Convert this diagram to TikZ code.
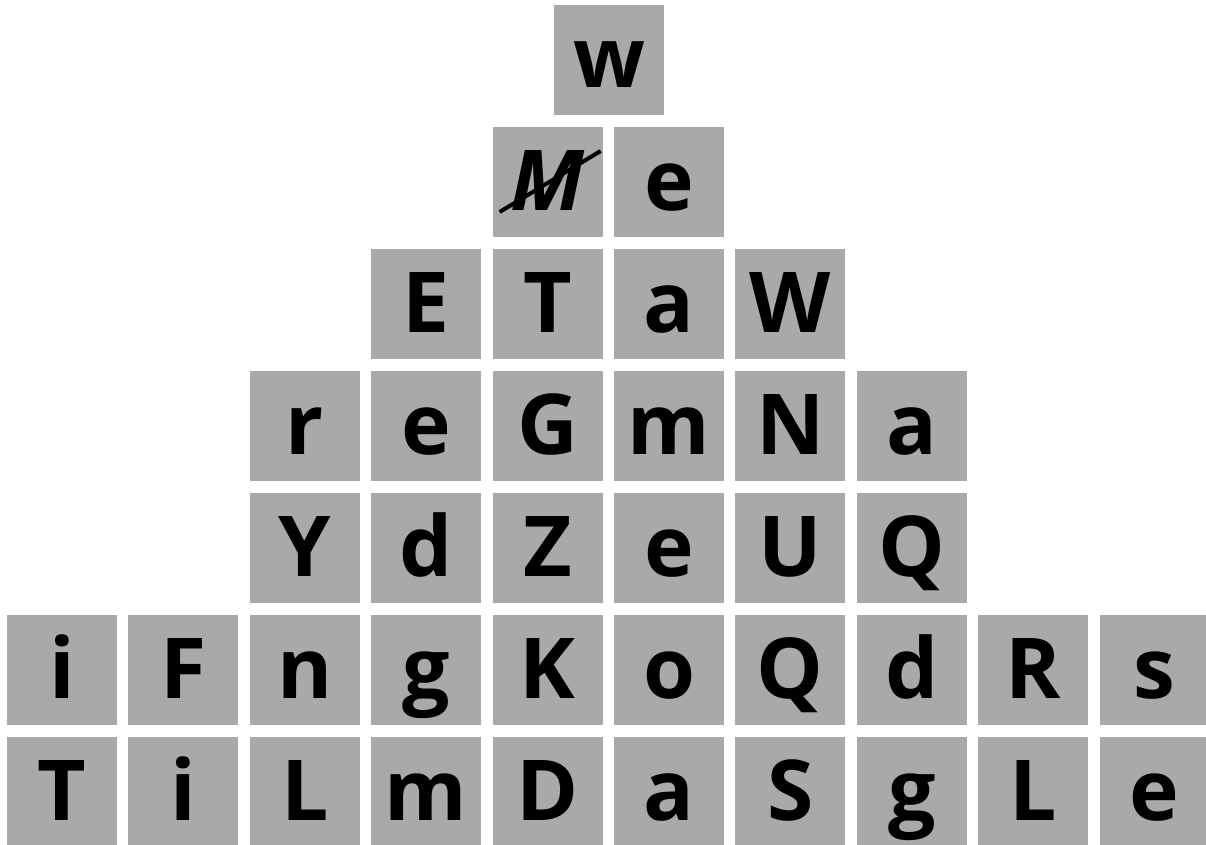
\documentclass[tikz,border=0pt]{standalone}
\usepackage{fontspec}
\setmainfont{Open Sans}
\definecolor{boxgray}{HTML}{A9A9A9}
\begin{document}
\begin{tikzpicture}[x=1pt,y=-1pt,
  tile/.style={fill=boxgray,draw=none,minimum width=110pt,minimum height=110pt,inner sep=0pt,
    text height=60pt,text depth=4pt,font=\fontsize{84}{84}\selectfont\bfseries},
  strike/.style={line width=4pt,black}]
\useasboundingbox (0,0) rectangle (1206,845);
\clip (0,0) rectangle (1206,845);
\newcommand{\tl}[4]{\node[tile] (#1) at ({7+121.4*#2+55},{5+122*#3+55}) {#4};}
% row 0
\node[tile] (w) at (609,60) {w};
% row 1
\tl{r1c4}{4}{1}{\itshape M}
\tl{r1c5}{5}{1}{e}
% row 2
\tl{r2c3}{3}{2}{E}
\tl{r2c4}{4}{2}{T}
\tl{r2c5}{5}{2}{a}
\tl{r2c6}{6}{2}{W}
% row 3
\tl{r3c2}{2}{3}{r}
\tl{r3c3}{3}{3}{e}
\tl{r3c4}{4}{3}{G}
\tl{r3c5}{5}{3}{m}
\tl{r3c6}{6}{3}{N}
\tl{r3c7}{7}{3}{a}
% row 4
\tl{r4c2}{2}{4}{Y}
\tl{r4c3}{3}{4}{d}
\tl{r4c4}{4}{4}{Z}
\tl{r4c5}{5}{4}{e}
\tl{r4c6}{6}{4}{U}
\tl{r4c7}{7}{4}{Q}
% row 5
\tl{r5c0}{0}{5}{i}
\tl{r5c1}{1}{5}{F}
\tl{r5c2}{2}{5}{n}
\tl{r5c3}{3}{5}{g}
\tl{r5c4}{4}{5}{K}
\tl{r5c5}{5}{5}{o}
\tl{r5c6}{6}{5}{Q}
\tl{r5c7}{7}{5}{d}
\tl{r5c8}{8}{5}{R}
\tl{r5c9}{9}{5}{s}
% row 6
\tl{r6c0}{0}{6}{T}
\tl{r6c1}{1}{6}{i}
\tl{r6c2}{2}{6}{L}
\tl{r6c3}{3}{6}{m}
\tl{r6c4}{4}{6}{D}
\tl{r6c5}{5}{6}{a}
\tl{r6c6}{6}{6}{S}
\tl{r6c7}{7}{6}{g}
\tl{r6c8}{8}{6}{L}
\tl{r6c9}{9}{6}{e}
% strike through M
\draw[strike] (r1c4.center) ++(-48,30) coordinate (s1) -- ++(101,-61) coordinate (s2);
\end{tikzpicture}
\end{document}
